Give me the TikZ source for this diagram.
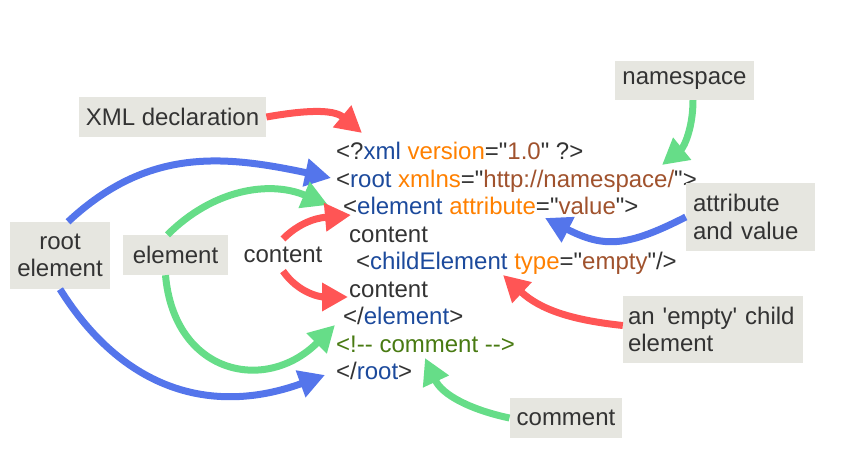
\documentclass[tikz,border=0pt]{standalone}
\usepackage{fontspec}
\setmainfont{Liberation Sans}[Ligatures=TeXOff]
\usetikzlibrary{arrows.meta}

\definecolor{tagblue}{RGB}{28,74,156}
\definecolor{attrorange}{RGB}{255,128,0}
\definecolor{valbrown}{RGB}{160,82,45}
\definecolor{cmtgreen}{RGB}{72,122,18}
\definecolor{txtgrey}{RGB}{51,51,51}
\definecolor{arrred}{RGB}{255,85,85}
\definecolor{arrblue}{RGB}{84,117,235}
\definecolor{arrgreen}{RGB}{102,221,136}
\definecolor{boxfill}{RGB}{230,230,224}

\newcommand{\tg}[1]{\textcolor{tagblue}{#1}}
\newcommand{\at}[1]{\textcolor{attrorange}{#1}}
\newcommand{\vl}[1]{\textcolor{valbrown}{#1}}

\tikzset{
  code/.style={anchor=base west, inner sep=0pt, text=txtgrey},
  lbl/.style={fill=boxfill, text=txtgrey, inner xsep=7pt, inner ysep=0pt, align=left},
  callout/.style={line width=7pt, -{Triangle[length=26pt,width=27pt]}},
}

\begin{document}
\begin{tikzpicture}[x=1pt,y=1pt,font=\fontsize{24}{27.5}\selectfont]
  \useasboundingbox (0,0) rectangle (848,468);

  % the xml listing
  \node[code] (l1) at (336,308)   {<?\tg{xml} \at{version}="\vl{1.0}" ?>};
  \node[code] (l2) at (336,280.5) {<\tg{root} \at{xmlns}="\vl{http://namespace/}">};
  \node[code] (l3) at (343,253)   {<\tg{element} \at{attribute}="\vl{value}">};
  \node[code] (l4) at (349,225.5) {content};
  \node[code] (l5) at (356,198)   {<\tg{childElement} \at{type}="\vl{empty}"/>};
  \node[code] (l6) at (349,170.5) {content};
  \node[code] (l7) at (343,143)   {</\tg{element}>};
  \node[code] (l8) at (336,115.5) {\textcolor{cmtgreen}{<!-{}- comment -{}->}};
  \node[code] (l9) at (336,88)    {</\tg{root}>};

  % labels
  \node[lbl, minimum height=40pt] (decl) at (172.5,351) {XML declaration};
  \node[lbl, align=center, minimum width=100pt, minimum height=67pt] (root) at (60,212.5) {root\\element};
  \node[lbl, minimum width=105pt, minimum height=40pt] (elem) at (175.5,213) {element};
  \node[text=txtgrey, inner xsep=0pt, inner ysep=8pt] (cont) at (283,213) {content};
  \node[lbl, minimum height=39pt] (ns) at (684.5,387.5) {namespace};
  \node[lbl, text width=115pt, minimum height=68pt] (attr) at (750.5,251) {attribute\\and value};
  \node[lbl, inner xsep=5pt, text width=170pt, minimum height=67pt] (empty) at (713,138.5) {an 'empty' child\\element};
  \node[lbl, minimum height=40pt] (cmt) at (566,50) {comment};

  % arrow targets
  \coordinate (declpt)  at (362,335);
  \coordinate (rootpt)  at (331,290);
  \coordinate (elempt)  at (328,263);
  \coordinate (contpt)  at (351,253);
  \coordinate (contpt2) at (348,171);
  \coordinate (endpt)   at (335,143);
  \coordinate (rootpt2) at (325,93);
  \coordinate (nspt)    at (662,303);
  \coordinate (attrpt)  at (545,250);
  \coordinate (childpt) at (503,193);
  \coordinate (cmtpt)   at (425,110);

  \path[callout]
    (decl.east) edge[arrred, out=10, in=140] (declpt)
    ([xshift=8pt]root.north) edge[arrblue, out=43, in=168, looseness=1.05] (rootpt)
    (root.south) edge[arrblue, out=-58, in=200, looseness=1.1] (rootpt2)
    ([xshift=-8pt]elem.north) edge[arrgreen, out=45, in=157] (elempt)
    ([xshift=-10pt]elem.south) edge[arrgreen, out=-85, in=225, looseness=1.43] (endpt)
    (cont.north) edge[arrred, out=45, in=185] (contpt)
    (cont.south) edge[arrred, out=-55, in=180] (contpt2)
    ([xshift=8.5pt]ns.south) edge[arrgreen, out=-90, in=39] (nspt)
    (attr.west) edge[arrblue, out=207, in=-27, looseness=1.2] (attrpt)
    ([yshift=4pt]empty.west) edge[arrred, out=174, in=-43] (childpt)
    (cmt.west) edge[arrgreen, out=168, in=-65] (cmtpt);
\end{tikzpicture}
\end{document}
